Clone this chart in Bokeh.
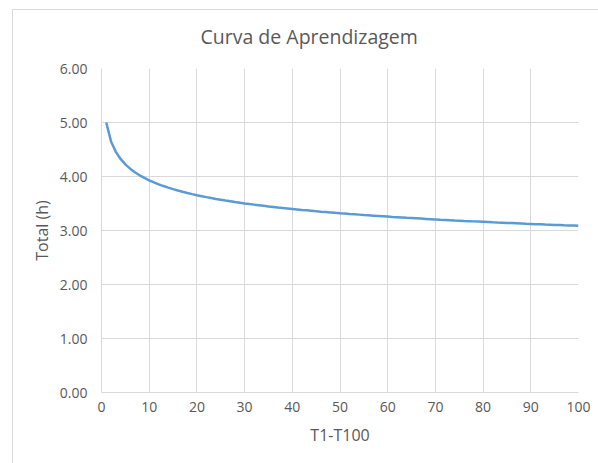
from bokeh.plotting import figure
from bokeh.models import Range1d, FixedTicker, CustomJSTickFormatter, InlineStyleSheet
from bokeh.embed import file_html
from bokeh.resources import INLINE

title_text = "Curva de Aprendizagem"
x_title = "T1-T100"
y_title = "Total (h)"
x_ticks = [0, 10, 20, 30, 40, 50, 60, 70, 80, 90, 100]
y_ticks = [0, 1, 2, 3, 4, 5, 6]

units = list(range(1, 101))
total_h = [
    5.000, 4.650, 4.457, 4.325, 4.225, 4.145, 4.079, 4.022, 3.973, 3.929,
    3.890, 3.855, 3.823, 3.793, 3.766, 3.741, 3.717, 3.695, 3.674, 3.654,
    3.636, 3.618, 3.601, 3.585, 3.570, 3.555, 3.542, 3.528, 3.515, 3.502,
    3.490, 3.479, 3.468, 3.457, 3.446, 3.437, 3.426, 3.417, 3.408, 3.399,
    3.390, 3.381, 3.373, 3.365, 3.357, 3.349, 3.342, 3.335, 3.327, 3.320,
    3.314, 3.306, 3.300, 3.294, 3.287, 3.281, 3.275, 3.269, 3.263, 3.257,
    3.251, 3.246, 3.241, 3.235, 3.230, 3.225, 3.220, 3.215, 3.210, 3.205,
    3.200, 3.196, 3.191, 3.186, 3.182, 3.177, 3.173, 3.169, 3.165, 3.161,
    3.157, 3.152, 3.148, 3.145, 3.141, 3.137, 3.133, 3.129, 3.125, 3.122,
    3.118, 3.115, 3.111, 3.108, 3.104, 3.101, 3.097, 3.094, 3.091, 3.087,
]

FONT = "Open Sans"
TXT = "#595959"
GRID = "#d9d9d9"

border_css = InlineStyleSheet(css="""
:host::after {
  content: "";
  position: absolute;
  left: 12px; top: 9px; right: 0px; bottom: 0px;
  border-left: 1px solid #d9d9d9;
  border-top: 1px solid #d9d9d9;
  pointer-events: none;
  z-index: 10;
}
""")

p = figure(width=598, height=463, output_backend="svg", toolbar_location=None,
           x_range=Range1d(0, 100), y_range=Range1d(0, 6),
           min_border_left=101, min_border_right=20, min_border_top=68, min_border_bottom=71,
           stylesheets=[border_css])
p.outline_line_color = None
p.background_fill_color = "white"
p.border_fill_color = "white"

p.title.text = title_text
p.title.align = "left"
p.title.offset = 99
p.title.text_font = FONT
p.title.text_font_size = "19.5px"
p.title.text_font_style = "normal"
p.title.text_color = TXT
p.title.vertical_align = "bottom"
p.title.standoff = 38

p.line(units, total_h, line_color="#5B9BD5", line_width=2.5)

for ax in (p.xaxis[0], p.yaxis[0]):
    ax.axis_line_color = GRID
    ax.major_tick_line_color = None
    ax.minor_tick_line_color = None
    ax.major_tick_in = 0
    ax.major_tick_out = 0
    ax.major_label_text_font = FONT
    ax.major_label_text_font_size = "14px"
    ax.major_label_text_color = TXT
    ax.axis_label_text_font = FONT
    ax.axis_label_text_font_size = "16px"
    ax.axis_label_text_font_style = "normal"
    ax.axis_label_text_color = TXT

p.xaxis[0].ticker = FixedTicker(ticks=x_ticks)
p.yaxis[0].ticker = FixedTicker(ticks=y_ticks)
p.yaxis[0].formatter = CustomJSTickFormatter(code="return tick.toFixed(2);")
p.xaxis[0].major_label_standoff = 9
p.yaxis[0].major_label_standoff = 14
p.xaxis[0].axis_label = x_title
p.yaxis[0].axis_label = y_title
p.xaxis[0].axis_label_standoff = 9
p.yaxis[0].axis_label_standoff = 4

p.xgrid.ticker = FixedTicker(ticks=x_ticks)
p.ygrid.ticker = FixedTicker(ticks=y_ticks)
p.xgrid.grid_line_color = GRID
p.ygrid.grid_line_color = GRID

open("out.html", "w").write(file_html(p, INLINE))
